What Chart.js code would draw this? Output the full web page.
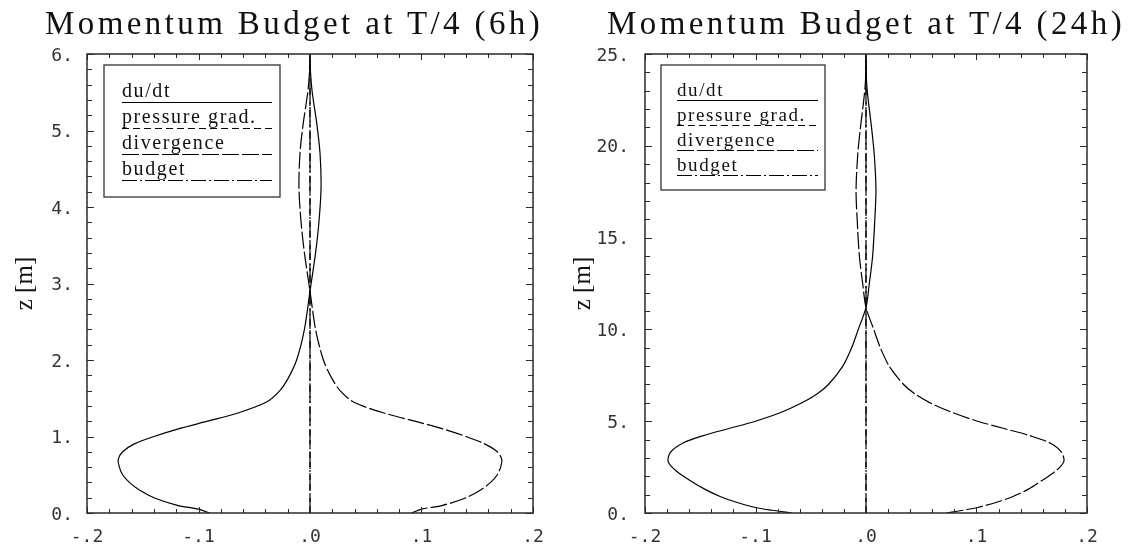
<!DOCTYPE html>
<html>
<head>
<meta charset="utf-8">
<script src="https://cdn.jsdelivr.net/npm/chart.js@4.4.1/dist/chart.umd.min.js"></script>
<style>
  html, body { margin: 0; padding: 0; background: #fff; }
  body { width: 1129px; height: 550px; position: relative; overflow: hidden; }
  .panel { position: absolute; top: 0; height: 550px; }
  .title {
    position: absolute; top: 7px; z-index: 2;
    font-family: 'Liberation Serif', serif; font-size: 33px; line-height: 33px;
    letter-spacing: 3.4px; color: #111; white-space: nowrap;
  }
</style>
</head>
<body>
<div class="panel" style="left:0;width:560px"><canvas id="c6h"></canvas></div>
<div class="panel" style="left:560px;width:569px"><canvas id="c24h"></canvas></div>
<div class="title" style="left:45px">Momentum Budget at T/4 (6h)</div>
<div class="title" style="left:607px">Momentum Budget at T/4 (24h)</div>
<script>
// ---- series names and tick labels ----
const seriesNames = ['du/dt', 'pressure grad.', 'divergence', 'budget'];
const xTickLabels = ['-.2', '-.1', '.0', '.1', '.2'];
const zTickLabels6h = ['0.', '1.', '2.', '3.', '4.', '5.', '6.'];
const zTickLabels24h = ['0.', '5.', '10.', '15.', '20.', '25.'];
const zAxisTitle = 'z [m]';

// ---- 6h profiles (height z in m) ----
const z6h = [0.00, 0.05, 0.10, 0.20, 0.30, 0.40, 0.50, 0.60, 0.70, 0.80, 0.90, 1.00, 1.10, 1.20, 1.30,
             1.45, 1.60, 1.75, 2.00, 2.40, 2.90, 3.40, 3.80, 4.25, 4.70, 5.10, 5.50, 5.80, 6.00];
const dudt6h = [-0.090, -0.100, -0.119, -0.140, -0.153, -0.162, -0.168, -0.171, -0.172, -0.168, -0.158, -0.140,
                -0.118, -0.092, -0.066, -0.039, -0.027, -0.020, -0.012, -0.005, 0.000, 0.005, 0.008, 0.0099,
                0.009, 0.006, 0.002, 0.0003, 0.000];
const divergence6h = [0.091, 0.100, 0.119, 0.140, 0.153, 0.162, 0.168, 0.171, 0.172, 0.168, 0.157, 0.140,
                      0.119, 0.094, 0.068, 0.039, 0.027, 0.020, 0.012, 0.005, 0.000, -0.005, -0.008, -0.0099,
                      -0.009, -0.006, -0.002, -0.0003, 0.000];
const zSpan6h = [0, 6];
const pressureGrad6h = [0, 0];
const budget6h = [0, 0];

// ---- 24h profiles ----
const z24h = [0.0, 0.15, 0.3, 0.6, 0.9, 1.3, 1.8, 2.3, 2.8, 3.3, 3.8, 4.2, 4.6, 5.0, 5.5, 6.0, 6.5, 7.0,
              8.0, 9.0, 10.0, 11.2, 12.5, 14.0, 16.0, 17.6, 19.5, 21.0, 22.5, 23.5, 25.0];
const dudt24h = [-0.067, -0.085, -0.100, -0.118, -0.132, -0.146, -0.160, -0.172, -0.179, -0.177, -0.166, -0.148,
                 -0.124, -0.100, -0.076, -0.058, -0.044, -0.034, -0.021, -0.013, -0.007, 0.000, 0.003, 0.006,
                 0.008, 0.009, 0.0075, 0.005, 0.002, 0.0005, 0.000];
const divergence24h = [0.073, 0.088, 0.101, 0.119, 0.133, 0.147, 0.160, 0.172, 0.179, 0.177, 0.167, 0.149,
                       0.125, 0.101, 0.077, 0.058, 0.044, 0.034, 0.021, 0.013, 0.007, 0.000, -0.003, -0.006,
                       -0.008, -0.009, -0.0075, -0.005, -0.002, -0.0005, 0.000];
const zSpan24h = [0, 25];
const pressureGrad24h = [0, 0];
const budget24h = [0, 0];

// line styles per series
const dashes = [[], [7, 4], [17, 3], [15, 3, 2, 3]];

function pts(xs, zs) { return xs.map((v, i) => ({ x: v, y: zs[i] })); }

// boxed frame with inward tick marks on all four sides
const frameTicks = {
  id: 'frameTicks',
  afterDraw(chart, args, o) {
    const { ctx, chartArea: a, scales: { x, y } } = chart;
    ctx.save();
    ctx.strokeStyle = '#2a2a2a';
    ctx.lineWidth = 1;
    ctx.beginPath();
    const nx = Math.round((x.max - x.min) / o.xStep);
    for (let i = 0; i <= nx; i++) {
      const v = x.min + i * o.xStep;
      const r = v / o.xMajor;
      const len = Math.abs(r - Math.round(r)) < 1e-6 ? o.majorLen : o.minorLen;
      const px = Math.round(x.getPixelForValue(v)) + 0.5;
      ctx.moveTo(px, a.bottom); ctx.lineTo(px, a.bottom - len);
      ctx.moveTo(px, a.top); ctx.lineTo(px, a.top + len);
    }
    const ny = Math.round((y.max - y.min) / o.yStep);
    for (let i = 0; i <= ny; i++) {
      const v = y.min + i * o.yStep;
      const r = v / o.yMajor;
      const len = Math.abs(r - Math.round(r)) < 1e-6 ? o.majorLen + 1 : o.minorLen + 1;
      const py = Math.round(y.getPixelForValue(v)) + 0.5;
      ctx.moveTo(a.left, py); ctx.lineTo(a.left + len, py);
      ctx.moveTo(a.right, py); ctx.lineTo(a.right - len, py);
    }
    ctx.stroke();
    ctx.lineWidth = 1.5;
    ctx.strokeRect(a.left, a.top, a.right - a.left, a.bottom - a.top);
    ctx.restore();
  }
};

// boxed legend: label text with a sample of the line style underneath
const boxLegend = {
  id: 'boxLegend',
  afterDraw(chart, args, o) {
    const { ctx, chartArea: a } = chart;
    const bx = a.left + o.left, by = a.top + o.top;
    ctx.save();
    ctx.fillStyle = '#fff';
    ctx.fillRect(bx, by, o.width, o.height);
    ctx.strokeStyle = '#333';
    ctx.lineWidth = 1.3;
    ctx.strokeRect(bx, by, o.width, o.height);
    ctx.font = o.font;
    ctx.letterSpacing = o.letterSpacing;
    ctx.textAlign = 'left';
    ctx.textBaseline = 'alphabetic';
    chart.data.datasets.forEach((ds, i) => {
      const ly = by + o.firstLine + i * o.rowGap;
      ctx.fillStyle = '#111';
      ctx.fillText(ds.label, bx + o.textInset, ly - o.textLift);
      ctx.setLineDash(ds.borderDash);
      ctx.lineWidth = ds.borderWidth;
      ctx.strokeStyle = ds.borderColor;
      ctx.beginPath();
      ctx.moveTo(bx + o.textInset, ly + 0.5);
      ctx.lineTo(bx + o.width - o.lineInset, ly + 0.5);
      ctx.stroke();
      ctx.setLineDash([]);
    });
    ctx.restore();
  }
};

function makeChart(id, zs, dudt, div, zSpan, pg, bud, zMax, zLabelStep, zTickLabels, zMinorStep, layout, legend) {
  const xsSeries = [pts(dudt, zs), pts(pg, zSpan), pts(div, zs), pts(bud, zSpan)];
  const datasets = seriesNames.map((name, i) => ({
    label: name,
    data: xsSeries[i],
    showLine: true,
    borderColor: '#000',
    borderWidth: 1.2,
    borderDash: dashes[i],
    pointRadius: 0,
    tension: 0.3,
    fill: false
  }));
  return new Chart(document.getElementById(id), {
    type: 'scatter',
    data: { datasets },
    options: {
      responsive: true,
      maintainAspectRatio: false,
      animation: false,
      events: [],
      layout: { padding: { top: 54, right: layout.right, bottom: 0, left: 0 } },
      plugins: {
        legend: { display: false },
        tooltip: { enabled: false },
        title: { display: false },
        frameTicks: { xStep: 0.02, xMajor: 0.1, yStep: zMinorStep, yMajor: zLabelStep, majorLen: 6, minorLen: 4 },
        boxLegend: legend
      },
      scales: {
        x: {
          type: 'linear', min: -0.2, max: 0.2,
          grid: { display: false, drawTicks: false },
          border: { display: false },
          afterFit(s) { s.height = 37; },
          ticks: {
            stepSize: 0.1, autoSkip: false, maxRotation: 0, padding: 14,
            color: '#333', font: { family: "'DejaVu Sans Mono', monospace", size: 18 },
            callback: (v, i) => xTickLabels[i]
          }
        },
        y: {
          type: 'linear', min: 0, max: zMax,
          grid: { display: false, drawTicks: false },
          border: { display: false },
          afterFit(s) { s.width = layout.yWidth; },
          title: {
            display: true, text: zAxisTitle, color: '#111',
            font: { family: "'Liberation Serif', serif", size: 25 },
            padding: { top: layout.titlePad, bottom: 0 }
          },
          ticks: {
            stepSize: zLabelStep, autoSkip: false, padding: layout.tickPad, labelOffset: 2,
            color: '#333', font: { family: "'DejaVu Sans Mono', monospace", size: 18 },
            callback: (v, i) => zTickLabels[i]
          }
        }
      }
    },
    plugins: [frameTicks, boxLegend]
  });
}

makeChart('c6h', z6h, dudt6h, divergence6h, zSpan6h, pressureGrad6h, budget6h,
  6, 1, zTickLabels6h, 0.2,
  { right: 27, yWidth: 87, titlePad: 10, tickPad: 14 },
  { left: 17, top: 11, width: 176, height: 132, textInset: 18, lineInset: 8, firstLine: 37, rowGap: 26, textLift: 5,
    font: "20px 'Liberation Serif', serif", letterSpacing: '1.6px' });

makeChart('c24h', z24h, dudt24h, divergence24h, zSpan24h, pressureGrad24h, budget24h,
  25, 5, zTickLabels24h, 1,
  { right: 42, yWidth: 85, titlePad: 8, tickPad: 16 },
  { left: 16, top: 11, width: 164, height: 125, textInset: 16, lineInset: 7, firstLine: 35, rowGap: 25, textLift: 4,
    font: "19px 'Liberation Serif', serif", letterSpacing: '1.6px' });
</script>
</body>
</html>
